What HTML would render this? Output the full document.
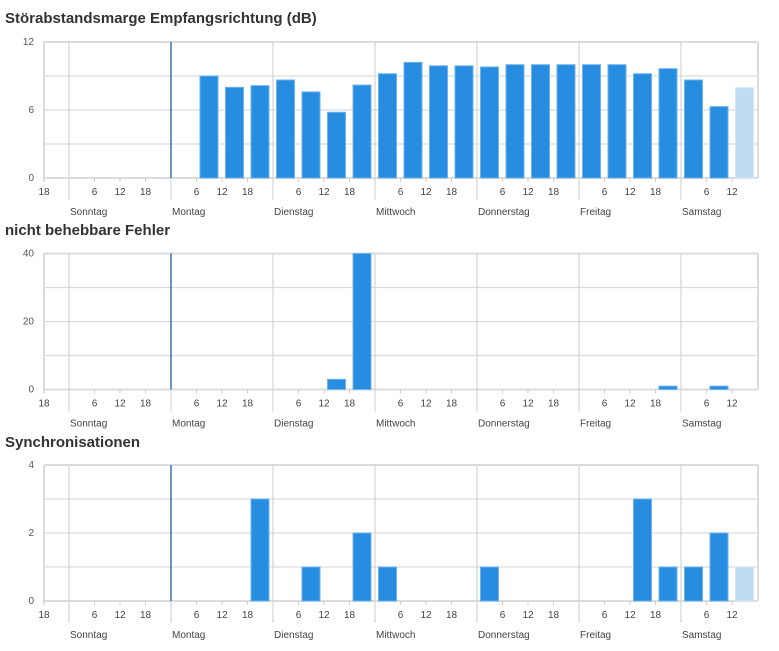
<!DOCTYPE html>
<html><head><meta charset="utf-8"><style>
body{margin:0;background:#fff;width:779px;height:651px;overflow:hidden;font-family:"Liberation Sans",sans-serif}
svg{position:absolute;left:0;top:0}
</style></head><body>
<svg id="c" width="779" height="651"></svg>
<script>
const dayNames=["Sonntag","Montag","Dienstag","Mittwoch","Donnerstag","Freitag","Samstag"];
const hourTicks=[6,12,18];
// bins: [dayIndex, hour] for 6h bins
const snrBins=[[1,6],[1,12],[1,18],[2,0],[2,6],[2,12],[2,18],[3,0],[3,6],[3,12],[3,18],[4,0],[4,6],[4,12],[4,18],[5,0],[5,6],[5,12],[5,18],[6,0],[6,6],[6,12]];
const snrValues=[9.0,8.0,8.15,8.65,7.6,5.8,8.2,9.2,10.2,9.9,9.9,9.8,10.0,10.0,10.0,10.0,10.0,9.2,9.65,8.65,6.3,7.97];
const errBins=[[2,12],[2,18],[5,18],[6,6]];
const errValues=[3,40,1,1];
const syncBins=[[1,18],[2,6],[2,18],[3,0],[4,0],[5,12],[5,18],[6,0],[6,6],[6,12]];
const syncValues=[3,1,2,1,1,3,1,1,2,1];
const partialBin=[6,12];
const charts=[
 {name:"snr",title:"Störabstandsmarge Empfangsrichtung (dB)",ty:18,top:42,max:12,grid:[0,3,6,9,12],labels:[0,6,12],bins:snrBins,vals:snrValues},
 {name:"errors",title:"nicht behebbare Fehler",ty:230,top:253.5,max:40,grid:[0,10,20,30,40],labels:[0,20,40],bins:errBins,vals:errValues},
 {name:"sync",title:"Synchronisationen",ty:442,top:465,max:4,grid:[0,1,2,3,4],labels:[0,2,4],bins:syncBins,vals:syncValues}
];
const svg=document.getElementById('c');const NS="http://www.w3.org/2000/svg";
function mk(t,a,p){const e=document.createElementNS(NS,t);for(const k in a)e.setAttribute(k,a[k]);(p||svg).appendChild(e);return e;}
const L=44,R=758,H=136,day0=69,pxH=(R-L)/168;
function x(d,h){return day0+(d*24+h)*pxH;}
charts.forEach(c=>{
 const g=mk('g',{});
 
 
 const t=mk('text',{x:5,y:c.ty+5,'font-size':15,'font-weight':'bold',fill:'#333'},g);t.textContent=c.title;
 
 const bot=c.top+H;const y=v=>bot-v/c.max*H;
 c.grid.forEach(v=>{const l=mk('line',{x1:L,x2:R,y1:y(v),y2:y(v),stroke:'#dcdcdc','stroke-width':(v==0||v==c.max)?2:1.2},g);
  });
 c.labels.forEach(v=>{const tx=mk('text',{x:34,y:y(v)+3,'font-size':10,fill:'#555','text-anchor':'end'},g);tx.textContent=v;
  });
 mk('line',{x1:L,x2:L,y1:c.top,y2:bot+4,stroke:'#dcdcdc','stroke-width':2},g);
 mk('line',{x1:R,x2:R,y1:c.top,y2:bot,stroke:'#dcdcdc','stroke-width':2},g);
 for(let d=0;d<7;d++){const xx=x(d,0);
  const l=mk('line',{x1:xx,x2:xx,y1:c.top,y2:bot+22,stroke:d==1?'#1a5fa8':'#d4d4d4','stroke-width':d==1?1.3:1.2},g);
  if(d==1)l.setAttribute('y2',bot);
  
  if(d==1)mk('line',{x1:xx,x2:xx,y1:bot,y2:bot+22,stroke:'#d4d4d4','stroke-width':1.2},g);
  const dl=mk('text',{x:xx+1,y:bot+37,'font-size':10,fill:'#444'},g);dl.textContent=dayNames[d];
  
  hourTicks.forEach(h=>{const hx=x(d,h);if(hx>R-2)return;
   mk('line',{x1:hx,x2:hx,y1:bot,y2:bot+4,stroke:'#ccc'},g);
   const ht=mk('text',{x:hx,y:bot+17,'font-size':10,fill:'#444','text-anchor':'middle'},g);ht.textContent=h;
   });
 }
 const ft=mk('text',{x:L,y:bot+17,'font-size':10,fill:'#444','text-anchor':'middle'},g);ft.textContent=18;
 
 c.bins.forEach((b,i)=>{const x0=x(b[0],b[1])+3.5;const w=6*pxH-7.5;const v=c.vals[i];
  const part=b[0]==partialBin[0]&&b[1]==partialBin[1];
  const r=mk('rect',{x:x0,y:y(v),width:w,height:bot-y(v),fill:part?'#bfdcf3':'#268de0',stroke:part?'#d3e8f8':'#6fb3ec','stroke-width':1},g);
  });
});
</script>
</body></html>
